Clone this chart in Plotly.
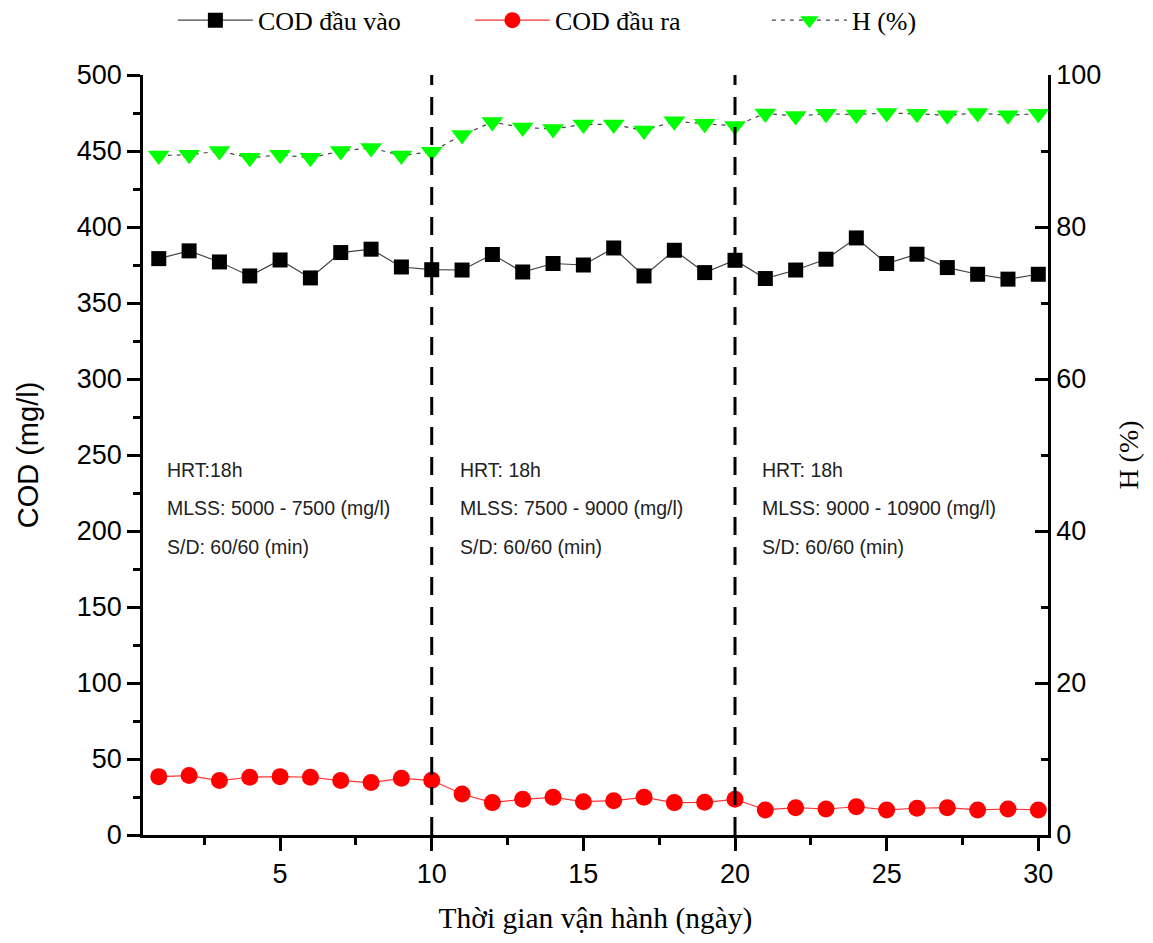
import plotly.graph_objects as go

days = list(range(1, 31))
cod_in = [379.2, 384.3, 377.0, 367.8, 378.3, 366.5, 383.2, 385.4, 373.7, 371.9,
          371.7, 381.9, 370.4, 376.0, 375.0, 386.2, 367.8, 384.7, 370.0, 378.1,
          366.1, 371.7, 378.8, 392.8, 376.0, 382.1, 373.3, 368.9, 365.7, 368.9]
cod_out = [38.4, 39.1, 35.8, 38.0, 38.4, 38.0, 35.8, 34.5, 37.3, 36.0,
           27.0, 21.3, 23.5, 24.8, 21.9, 22.6, 24.8, 21.3, 21.5, 23.5,
           16.5, 18.0, 17.1, 18.6, 16.5, 17.6, 18.0, 16.5, 17.1, 16.5]
h_pct = [89.4, 89.5, 90.0, 89.1, 89.5, 89.1, 90.0, 90.4, 89.4, 89.9,
         92.1, 93.8, 93.1, 92.9, 93.5, 93.5, 92.7, 93.9, 93.6, 93.3,
         94.95, 94.6, 94.9, 94.8, 95.0, 94.9, 94.7, 95.0, 94.7, 94.9]
phase_bounds = [10, 20]
phase_text_x = [1.2, 10.87, 20.82]
phase_texts = [
    ["HRT:18h", "MLSS: 5000 - 7500 (mg/l)", "S/D: 60/60 (min)"],
    ["HRT: 18h", "MLSS: 7500 - 9000 (mg/l)", "S/D: 60/60 (min)"],
    ["HRT: 18h", "MLSS: 9000 - 10900 (mg/l)", "S/D: 60/60 (min)"],
]
text_rows_y = [240, 215, 189.5]

fig = go.Figure()
fig.add_trace(go.Scatter(
    x=days, y=cod_in, name="COD đầu vào", mode="lines+markers",
    line=dict(color="#444444", width=1.2),
    marker=dict(symbol="square", size=15, color="black"),
))
fig.add_trace(go.Scatter(
    x=days, y=cod_out, name="COD đầu ra", mode="lines+markers",
    line=dict(color="#ff3333", width=1.2),
    marker=dict(symbol="circle", size=17, color="#ff0000"),
))
fig.add_trace(go.Scatter(
    x=days, y=h_pct, name="H (%)", mode="lines+markers", yaxis="y2",
    line=dict(color="#444444", width=1.2, dash="4px,5px"),
    marker=dict(symbol="triangle-down", size=19, color="#00ff00"),
))

for xb in phase_bounds:
    fig.add_shape(type="line", x0=xb, x1=xb, y0=0, y1=500, xref="x", yref="y",
                  line=dict(color="black", width=3, dash="18px,12px"), layer="above")

for xt, lines in zip(phase_text_x, phase_texts):
    for yt, t in zip(text_rows_y, lines):
        fig.add_annotation(x=xt, y=yt, xref="x", yref="y", text=t, showarrow=False,
                           xanchor="left", yanchor="middle",
                           font=dict(family="Liberation Sans, Arial", size=19.5, color="#222222"))

axis_font = dict(family="Liberation Sans, Arial", size=27, color="black")
fig.update_layout(
    width=1153, height=943,
    margin=dict(l=135, r=113, t=67, b=116, autoexpand=False),
    paper_bgcolor="white", plot_bgcolor="white",
    showlegend=True,
    legend=dict(orientation="h", x=0.143, xref="container", y=0.987, yref="container",
                xanchor="left", yanchor="middle",
                font=dict(family="Liberation Serif, Times New Roman", size=26, color="black"),
                entrywidth=207, entrywidthmode="pixels", itemwidth=75,
                bgcolor="rgba(0,0,0,0)"),
    xaxis=dict(
        range=[0.48, 30.32], tickmode="linear", tick0=0, dtick=5,
        showgrid=False, zeroline=False, showline=True, linecolor="black", linewidth=2.5,
        ticks="outside", ticklen=13, tickwidth=2.5, tickcolor="black",
        minor=dict(ticks="outside", ticklen=7, tickwidth=2.5, tickcolor="black", dtick=2.5, tick0=0),
        tickfont=axis_font,
        title=dict(text="Thời gian vận hành (ngày)",
                   font=dict(family="Liberation Serif, Times New Roman", size=29.5, color="black"),
                   standoff=20),
    ),
    yaxis=dict(
        range=[0, 500], tickmode="linear", tick0=0, dtick=50,
        showgrid=False, zeroline=False, showline=True, linecolor="black", linewidth=2.5,
        ticks="outside", ticklen=13, tickwidth=2.5, tickcolor="black",
        minor=dict(ticks="outside", ticklen=7, tickwidth=2.5, tickcolor="black", dtick=25, tick0=0),
        tickfont=axis_font,
        title=dict(text="COD (mg/l)", font=dict(family="Liberation Sans, Arial", size=29, color="black"),
                   standoff=30),
    ),
    yaxis2=dict(
        range=[0, 100], overlaying="y", side="right", tickmode="linear", tick0=0, dtick=20,
        showgrid=False, zeroline=False, showline=True, linecolor="black", linewidth=2.5,
        ticks="inside", ticklen=13, tickwidth=2.5, tickcolor="black",
        minor=dict(ticks="inside", ticklen=7, tickwidth=2.5, tickcolor="black", dtick=10, tick0=0),
        tickfont=axis_font,
        title=dict(text="H (%)", font=dict(family="Liberation Serif, Times New Roman", size=28, color="black"),
                   standoff=19),
    ),
)

fig.write_html("out.html")
